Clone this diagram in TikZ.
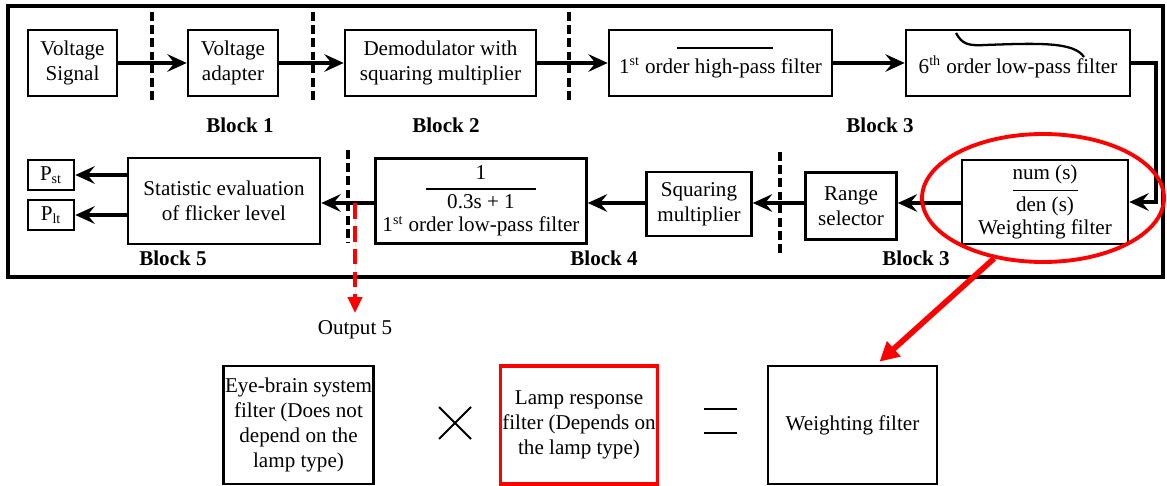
\documentclass[tikz,border=0pt]{standalone}
\usepackage{fontspec}
\IfFontExistsTF{LiberationSerif-Regular.ttf}
  {\setmainfont{LiberationSerif}[Extension=.ttf, UprightFont=*-Regular,
     BoldFont=*-Bold, ItalicFont=*-Italic, BoldItalicFont=*-BoldItalic]}
  {\setmainfont{Liberation Serif}}
\usepackage{amsmath}
\usepackage{xcolor}
\definecolor{mark}{HTML}{FF0000}
\usepackage{tikz}
\usetikzlibrary{
  shapes.geometric, arrows.meta, positioning, calc
}
\newcommand{\diafont}{\fontsize{12}{14.2}\selectfont}
\tikzset{
  blk/.style={
    rectangle, draw=black, line width=1.5pt, align=center,
    inner sep=1pt, font=\diafont
  },
  arr/.style={-{Stealth[length=11pt, width=10pt, inset=4pt]}, line width=2.2pt},
  sep/.style={line width=2pt, dash pattern=on 5pt off 2.5pt},
  lbl/.style={font=\diafont\bfseries},
  frame/.style={draw=black, line width=1.8pt},
  redarr/.style={-{Triangle[length=11pt, width=11pt]}, line width=3.2pt, draw=mark, fill=mark},
  reddash/.style={-{Triangle[length=9pt, width=8pt]}, line width=2pt,
                  dash pattern=on 9pt off 4pt, draw=mark, fill=mark}
}

\begin{document}
\begin{tikzpicture}[x=0.02cm, y=-0.02cm]

  \useasboundingbox (0,0) rectangle (1167,486);
  \draw[frame] (8,6) rectangle (1163,277);

  %% First row
  \node[blk, minimum width=1.78cm, minimum height=1.32cm] (vs)  at (72.5,63)  {Voltage\\Signal};
  \node[blk, minimum width=1.80cm, minimum height=1.32cm] (va)  at (233,63)   {Voltage\\adapter};
  \node[blk, minimum width=3.82cm, minimum height=1.32cm] (dem) at (440.5,63) {Demodulator with\\squaring multiplier};
  \node[blk, minimum width=4.46cm, minimum height=1.32cm] (hp)  at (720.5,63)
    {\mbox{}\\1\textsuperscript{st} order high-pass filter};
  \node[blk, minimum width=4.48cm, minimum height=1.32cm] (lp6) at (1018,63)
    {\mbox{}\\6\textsuperscript{th} order low-pass filter};

  \draw[line width=1.3pt] (677,48) -- (773,48);
  \draw[line width=1.3pt] (956,33) .. controls (962,44) and (968,46) .. (985,45)
    .. controls (1040,43) and (1074,42) .. (1084,57);

  \draw[sep] (152,12) -- (152,103);
  \draw[sep] (313,12) -- (313,103);
  \draw[sep] (569,12) -- (569,103);

  \node[lbl] (b1) at (240,125) {Block 1};
  \node[lbl] (b2) at (446,125) {Block 2};
  \node[lbl] (b3) at (880,125) {Block 3};

  \draw[arr] (vs) -- (va);
  \draw[arr] (va) -- (dem);
  \draw[arr] (dem) -- (hp);
  \draw[arr] (hp) -- (lp6);

  %% Second row
  \node[blk, minimum width=3.32cm, minimum height=1.68cm] (wf) at (1045,202)
    {$\genfrac{}{}{1pt}{0}{\text{num (s)}}{\text{den (s)}}$\\[1pt]Weighting filter};
  \node[blk, minimum width=1.82cm, minimum height=1.34cm] (rs) at (851,206) {Range\\selector};
  \node[blk, minimum width=2.10cm, minimum height=1.28cm] (sq) at (699,204) {Squaring\\multiplier};
  \node[blk, minimum width=4.22cm, minimum height=1.70cm] (lp1) at (481,201)
    {$\genfrac{}{}{1pt}{0}{\text{1}}{\text{\makebox[2.2cm]{0.3s + 1}}}$\\[3pt]1\textsuperscript{st} order low-pass filter};
  \node[blk, minimum width=3.84cm, minimum height=1.72cm] (stat) at (224,201)
    {Statistic evaluation\\of flicker level};
  \node[blk, minimum width=0.92cm, minimum height=0.6cm] (pst) at (51,175) {P\textsubscript{st}};
  \node[blk, minimum width=0.92cm, minimum height=0.6cm] (plt) at (51,215) {P\textsubscript{lt}};

  \draw[sep] (348,150) -- (348,243);
  \draw[sep] (780,152) -- (780,256);

  \node[lbl] (b5) at (173,258) {Block 5};
  \node[lbl] (b4) at (604,258) {Block 4};
  \node[lbl] (b3b) at (916,258) {Block 3};

  \draw[arr] (lp6.east) -- ++(25,0) |- (wf.east);
  \draw[arr] (wf.west |- 0,203) -- (rs.east |- 0,203);
  \draw[arr] (rs.west |- 0,203) -- (sq.east |- 0,203);
  \draw[arr] (sq.west |- 0,203) -- (lp1.east |- 0,203);
  \draw[arr] (lp1.west |- 0,203) -- (stat.east |- 0,203);
  \draw[arr] (stat.west |- pst) -- (pst.east);
  \draw[arr] (stat.west |- plt) -- (plt.east);

  %% Output tap
  \coordinate (tap) at (355,203);
  \coordinate (out5) at (355,313);
  \draw[reddash] (tap) -- (out5);
  \node[font=\diafont, below=1pt of out5] (o5) {Output 5};

  %% Weighting filter decomposition
  \node[ellipse, draw=mark, line width=2.2pt, minimum width=4.84cm, minimum height=2.56cm]
    (ell) at (1043,198) {};
  \node[blk, minimum width=2.70cm, minimum height=2.36cm] (eye) at (298.5,425)
    {Eye-brain system\\filter (Does not\\depend on the\\lamp type)};
  \node[blk, draw=mark, line width=2pt, minimum width=3.08cm, minimum height=2.36cm] (lamp) at (579,425)
    {Lamp response\\filter (Depends on\\the lamp type)};
  \node[blk, minimum width=3.38cm, minimum height=2.36cm] (wf2) at (852.5,425) {Weighting filter};

  \draw[line width=1.1pt] (439,407) -- (471,439) (439,439) -- (471,407);
  \draw[line width=1.5pt] (704,409) -- (737,409) (704,433) -- (737,433);

  \draw[redarr] (ell.231) -- ($(wf2.north)+(27,-3)$);

\end{tikzpicture}
\end{document}
